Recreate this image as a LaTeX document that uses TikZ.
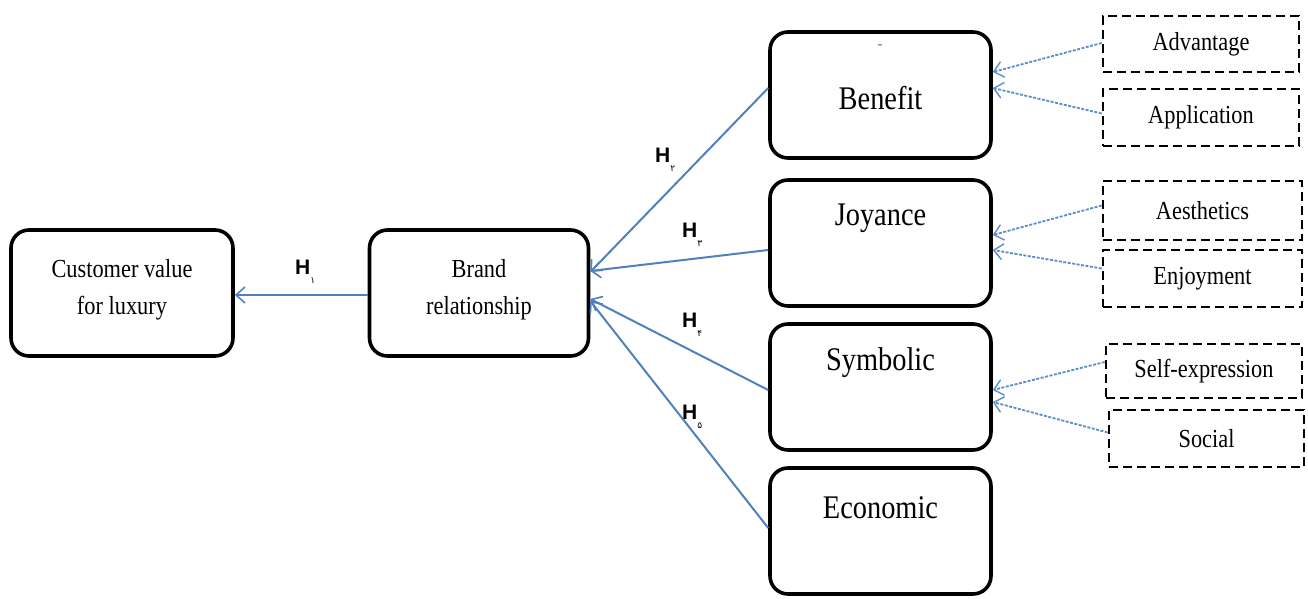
\documentclass[tikz,border=0pt]{standalone}
\usepackage{fontspec}
\setmainfont[FakeStretch=0.86]{Liberation Serif}
\newfontfamily\hfont{Liberation Sans}
\newfontfamily\subfnt[Script=Arabic]{DejaVu Sans}
\usetikzlibrary{arrows.meta}
\definecolor{arrowblue}{HTML}{4F81BD}
\definecolor{lightblue}{HTML}{5B8CCB}
\newcommand{\Hlab}[1]{{\hfont\bfseries\fontsize{21}{21}\selectfont H}\raisebox{-9pt}{\subfnt\fontsize{9}{9}\selectfont #1}}
\tikzset{
  mainbox/.style={draw=black, line width=3.6pt, rounded corners=18pt, minimum width=221pt, minimum height=126pt, inner sep=0pt},
  subbox/.style={draw=black, line width=2.6pt, dash pattern=on 9pt off 5pt, inner sep=0pt, font=\fontsize{26}{30}\selectfont},
  smalltxt/.style={align=center, font=\fontsize{26}{37}\selectfont},
  bigtxt/.style={font=\fontsize{33}{36}\selectfont},
  solidarrow/.style={draw=arrowblue, line width=2pt, -{Straight Barb[length=9pt,width=16pt,line width=1.6pt]}},
  dasharrow/.style={draw=lightblue, line width=1.8pt, dash pattern=on 3pt off 1.5pt, -{Straight Barb[length=9pt,width=16pt,line width=1.4pt]}},
  hlabel/.style={inner sep=0pt, anchor=west}
}
\begin{document}
\begin{tikzpicture}[x=1pt,y=-1pt]
\useasboundingbox (0,0) rectangle (1308,599);
% main boxes
\node[mainbox, minimum width=222pt] (cv) at (122,293) {};
\node[smalltxt] (cvt) at (122,290) {Customer value\\for luxury};
\node[mainbox, minimum width=219pt] (br) at (479,293) {};
\node[smalltxt] (brt) at (479,290) {Brand\\relationship};
\node[mainbox] (be) at (880.5,95) {};
\node[bigtxt] (bet) at (880.5,98) {Benefit};
\node[text=gray, font=\fontsize{18}{18}\selectfont, inner sep=0pt] (bed) at (880,47) {-};
\node[mainbox] (jo) at (880.5,243) {};
\node[bigtxt] (jot) at (880.5,218) {Joyance};
\node[mainbox] (sy) at (880.5,387) {};
\node[bigtxt] (syt) at (880.5,363) {Symbolic};
\node[mainbox] (ec) at (880.5,531) {};
\node[bigtxt] (ect) at (880.5,508) {Economic};
% dashed boxes
\node[subbox, minimum width=196pt, minimum height=56pt] (ad) at (1201,44) {Advantage};
\node[subbox, minimum width=196pt, minimum height=57pt] (ap) at (1201,117.5) {Application};
\node[subbox, minimum width=199pt, minimum height=59pt] (ae) at (1202.5,210.5) {Aesthetics};
\node[subbox, minimum width=199pt, minimum height=57pt] (en) at (1202.5,278.5) {Enjoyment};
\node[subbox, minimum width=196pt, minimum height=54pt] (se) at (1204,371) {Self-expression};
\node[subbox, minimum width=195pt, minimum height=57pt] (so) at (1206.5,438.5) {Social};
% solid arrows
\draw[solidarrow] ([yshift=-2pt]br.west) -- ([yshift=-2pt]cv.east);
\draw[solidarrow] ([yshift=7pt]be.west) -- ([yshift=21pt]br.east);
\draw[solidarrow] ([yshift=-7pt]jo.west) -- ([yshift=22pt]br.east);
\draw[solidarrow] ([yshift=-3pt]sy.west) -- ([yshift=-6pt]br.east);
\draw[solidarrow] ([yshift=3pt]ec.west) -- ([yshift=-8pt]br.east);
% dashed arrows
\draw[dasharrow] ([yshift=1pt]ad.west) -- ([yshift=23pt]be.east);
\draw[dasharrow] ([yshift=4pt]ap.west) -- ([yshift=7pt]be.east);
\draw[dasharrow] ([yshift=5pt]ae.west) -- ([yshift=8pt]jo.east);
\draw[dasharrow] ([yshift=10pt]en.west) -- ([yshift=-7pt]jo.east);
\draw[dasharrow] ([yshift=9pt]se.west) -- ([yshift=-3pt]sy.east);
\draw[dasharrow] ([yshift=6pt]so.west) -- ([yshift=-15pt]sy.east);
% hypothesis labels
\node[hlabel] (h1) at (295,272) {\Hlab{۱}};
\node[hlabel] (h2) at (655,160) {\Hlab{۲}};
\node[hlabel] (h3) at (682,235) {\Hlab{۳}};
\node[hlabel] (h4) at (682,325) {\Hlab{۴}};
\node[hlabel] (h5) at (682,417) {\Hlab{۵}};
\end{tikzpicture}
\end{document}
